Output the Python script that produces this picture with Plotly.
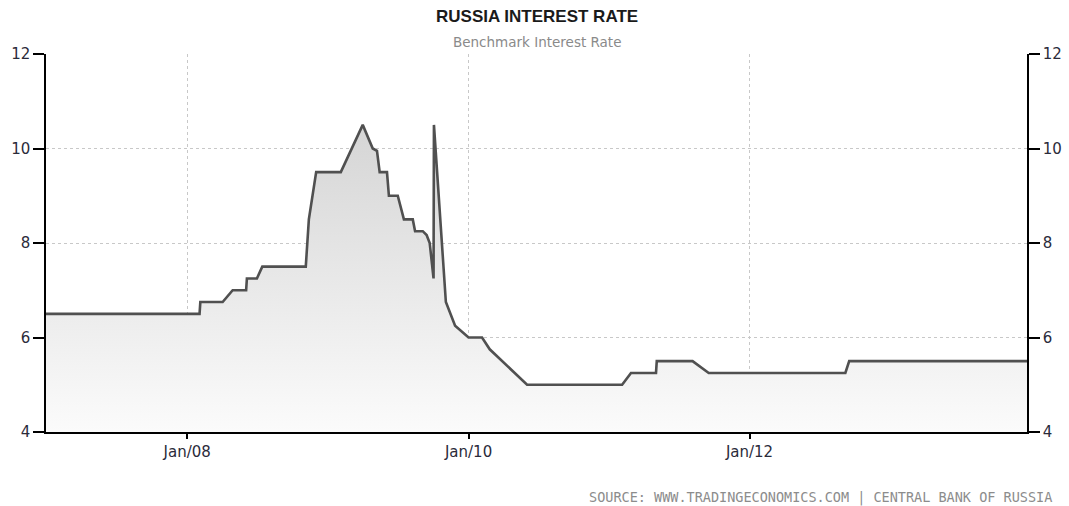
import plotly.graph_objects as go

# Benchmark rate observations (date, percent)
dates = [
    "2006-12-30", "2008-02-02", "2008-02-04", "2008-04-02", "2008-04-28",
    "2008-06-02", "2008-06-04", "2008-06-30", "2008-07-14", "2008-11-04",
    "2008-11-12", "2008-12-01", "2009-02-03", "2009-04-01", "2009-04-27",
    "2009-05-08", "2009-05-15", "2009-06-03", "2009-06-08", "2009-07-01",
    "2009-07-17", "2009-08-09", "2009-08-15", "2009-09-04", "2009-09-14",
    "2009-09-22", "2009-10-02", "2009-10-03", "2009-11-03", "2009-11-27",
    "2010-01-01", "2010-02-05", "2010-02-25", "2010-06-02", "2011-02-04",
    "2011-02-27", "2011-05-03", "2011-05-05", "2011-08-06", "2011-09-17",
    "2012-09-06", "2012-09-16", "2013-12-22",
]
rates = [
    6.5, 6.5, 6.75, 6.75, 7.0,
    7.0, 7.25, 7.25, 7.5, 7.5,
    8.5, 9.5, 9.5, 10.5, 10.0,
    9.95, 9.5, 9.5, 9.0, 9.0,
    8.5, 8.5, 8.25, 8.25, 8.17,
    8.0, 7.25, 10.5, 6.75, 6.25,
    6.0, 6.0, 5.75, 5.0, 5.0,
    5.25, 5.25, 5.5, 5.5, 5.25,
    5.25, 5.5, 5.5,
]

x_ticks = ["2008-01-01", "2010-01-01", "2012-01-01"]
x_labels = ["Jan/08", "Jan/10", "Jan/12"]
y_ticks = [4, 6, 8, 10, 12]

title = "RUSSIA INTEREST RATE"
subtitle = "Benchmark Interest Rate"
source = "SOURCE: WWW.TRADINGECONOMICS.COM | CENTRAL BANK OF RUSSIA"

tick_font = dict(family="Tahoma, Verdana, 'DejaVu Sans', sans-serif", size=15, color="#2b2b3a")

fig = go.Figure()
fig.add_trace(go.Scatter(
    x=dates, y=rates, mode="lines",
    line=dict(color="#505050", width=2.6),
    fill="tozeroy",
    fillgradient=dict(
        type="vertical",
        start=4, stop=10.5,
        colorscale=[[0, "#fbfbfb"], [1, "#d5d5d5"]],
    ),
    hoverinfo="x+y", showlegend=False,
))
# Same series on the right-hand axis so its ticks and labels are drawn
fig.add_trace(go.Scatter(
    x=dates, y=rates, yaxis="y2", mode="lines",
    line=dict(width=0, color="rgba(0,0,0,0)"),
    hoverinfo="skip", showlegend=False,
))

fig.update_layout(
    width=1069, height=506,
    margin=dict(l=46, r=42, t=54, b=74, autoexpand=False),
    paper_bgcolor="white", plot_bgcolor="white",
    xaxis=dict(
        range=["2006-12-30", "2013-12-22"],
        tickvals=x_ticks, ticktext=x_labels, automargin=False,
        showgrid=True, gridcolor="#c8c8c8", griddash="dot", gridwidth=1,
        showline=True, linecolor="black", linewidth=1.5,
        ticks="outside", ticklen=5, tickcolor="black", tickwidth=1.5,
        tickfont=tick_font, zeroline=False,
    ),
    yaxis=dict(
        range=[4, 12], tickvals=y_ticks, automargin=False,
        showgrid=True, gridcolor="#c8c8c8", griddash="dot", gridwidth=1,
        showline=True, linecolor="black", linewidth=1.5,
        ticks="outside", ticklen=11, tickcolor="black", tickwidth=1.5,
        tickfont=tick_font, zeroline=False,
    ),
    yaxis2=dict(
        range=[4, 12], tickvals=y_ticks, overlaying="y", side="right",
        showgrid=False, automargin=False,
        showline=True, linecolor="black", linewidth=1.5,
        ticks="outside", ticklen=11, tickcolor="black", tickwidth=1.5,
        tickfont=tick_font, zeroline=False,
    ),
    annotations=[
        dict(text=f"<b>{title}</b>", xref="paper", yref="paper", x=0.5, y=1,
             xanchor="center", yanchor="bottom", yshift=26, showarrow=False,
             font=dict(family="'Liberation Sans Narrow', 'Arial Narrow', sans-serif",
                       size=17, color="#1a1a1a")),
        dict(text=subtitle, xref="paper", yref="paper", x=0.5, y=1,
             xanchor="center", yanchor="bottom", yshift=2, showarrow=False,
             font=dict(family="Tahoma, 'DejaVu Sans', sans-serif", size=13.5, color="#8a8a8a")),
        dict(text=source, xref="paper", yref="paper", x=1, y=0,
             xanchor="right", yanchor="top", xshift=27, yshift=-55, showarrow=False,
             font=dict(family="'DejaVu Sans Mono', monospace", size=13.5, color="#8c8c8c")),
    ],
)

fig.write_html("out.html")
